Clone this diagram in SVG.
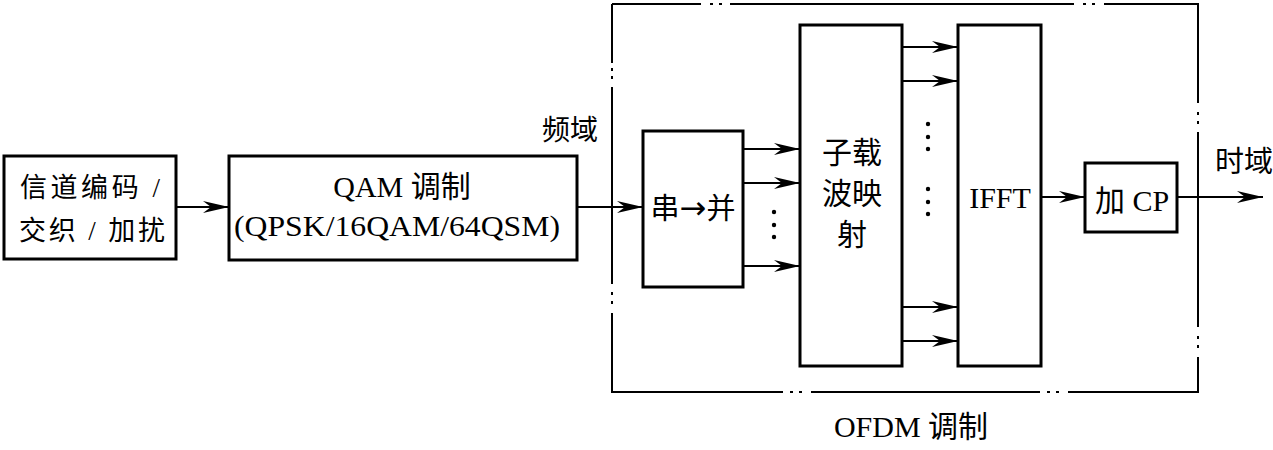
<svg xmlns="http://www.w3.org/2000/svg" width="1273" height="450" viewBox="0 0 1273 450">
<style>
.box{fill:#fff;stroke:#000;stroke-width:3}
.outer{fill:none;stroke:#000;stroke-width:2}
.ln{fill:none;stroke:#000;stroke-width:2}
.t{font-family:"Liberation Serif","Noto Sans CJK SC",serif;fill:#000;text-anchor:middle}
.dot{fill:#000}
</style>
<defs>
<marker id="ah" markerUnits="userSpaceOnUse" markerWidth="30" markerHeight="16" viewBox="-28 -8 30 16" refX="0" refY="0" orient="auto">
<path d="M0,0 L-26,-6 L-18,0 L-26,6 Z" fill="#000"/>
</marker>
</defs>
<rect width="1273" height="450" fill="#fff"/>
<g id="ofdm-frame">
<path class="outer" d="M612,4 H701 M710,4 H713 M719,4 H722 M730,4 H1074 M1083,4 H1086 M1092,4 H1095 M1104,4 H1198 V103 M1198,112 V115 M1198,121 V124 M1198,132 V327 M1198,336 V339 M1198,345 V348 M1198,357 V392 H1068 M1059,392 H1056 M1050,392 H1047 M1040,392 H811 M802,392 H799 M793,392 H790 M783,392 H612 V313 M612,304 V301 M612,295 V292 M612,284 V87 M612,79 V76 M612,71 V68 M612,63 V4"/>
<text class="t" x="911" y="437" font-size="30">OFDM 调制</text>
</g>
<g id="n-coding">
<rect class="box" x="4" y="156" width="172" height="103"/>
<text class="t" x="90" y="197" font-size="27" textLength="140" lengthAdjust="spacing">信道编码 /</text>
<text class="t" x="92" y="240" font-size="27" textLength="146" lengthAdjust="spacing">交织 / 加扰</text>
</g>
<g id="n-qam">
<rect class="box" x="229" y="156" width="348" height="104"/>
<text class="t" x="402" y="197" font-size="30">QAM 调制</text>
<text class="t" x="397" y="236" font-size="30" textLength="326" lengthAdjust="spacingAndGlyphs">(QPSK/16QAM/64QSM)</text>
</g>
<g id="n-s2p">
<rect class="box" x="643" y="131" width="100" height="156"/>
<text class="t" x="693" y="219" font-size="29">串<tspan font-family="DejaVu Sans" font-size="32">→</tspan>并</text>
</g>
<g id="n-map">
<rect class="box" x="800" y="25" width="102" height="341"/>
<text class="t" x="852" y="163" font-size="30">子载</text>
<text class="t" x="852" y="204" font-size="30">波映</text>
<text class="t" x="852" y="245" font-size="30">射</text>
</g>
<g id="n-ifft">
<rect class="box" x="958" y="25" width="83" height="341"/>
<text class="t" x="1000" y="208" font-size="30">IFFT</text>
</g>
<g id="n-cp">
<rect class="box" x="1085" y="163" width="92" height="69"/>
<text class="t" x="1132" y="211" font-size="30">加 CP</text>
</g>
<g id="labels">
<text class="t" x="570" y="140" font-size="28">频域</text>
<text class="t" x="1215" y="172" font-size="29" style="text-anchor:start">时域</text>
</g>
<g id="connectors">
<line class="ln" x1="176" y1="207" x2="229" y2="207" marker-end="url(#ah)"/>
<line class="ln" x1="577" y1="207" x2="643" y2="207" marker-end="url(#ah)"/>
<line class="ln" x1="743" y1="149" x2="800" y2="149" marker-end="url(#ah)"/>
<line class="ln" x1="743" y1="183" x2="800" y2="183" marker-end="url(#ah)"/>
<line class="ln" x1="743" y1="266" x2="800" y2="266" marker-end="url(#ah)"/>
<line class="ln" x1="902" y1="47" x2="958" y2="47" marker-end="url(#ah)"/>
<line class="ln" x1="902" y1="81" x2="958" y2="81" marker-end="url(#ah)"/>
<line class="ln" x1="902" y1="307" x2="958" y2="307" marker-end="url(#ah)"/>
<line class="ln" x1="902" y1="341" x2="958" y2="341" marker-end="url(#ah)"/>
<line class="ln" x1="1041" y1="197" x2="1085" y2="197" marker-end="url(#ah)"/>
<line class="ln" x1="1177" y1="197" x2="1263" y2="197" marker-end="url(#ah)"/>
<circle class="dot" cx="774" cy="212" r="2.2"/>
<circle class="dot" cx="774" cy="225" r="2.2"/>
<circle class="dot" cx="774" cy="237" r="2.2"/>
<circle class="dot" cx="928" cy="124" r="2.2"/>
<circle class="dot" cx="928" cy="137" r="2.2"/>
<circle class="dot" cx="928" cy="149" r="2.2"/>
<circle class="dot" cx="928" cy="189" r="2.2"/>
<circle class="dot" cx="928" cy="202" r="2.2"/>
<circle class="dot" cx="928" cy="214" r="2.2"/>
</g>
</svg>
